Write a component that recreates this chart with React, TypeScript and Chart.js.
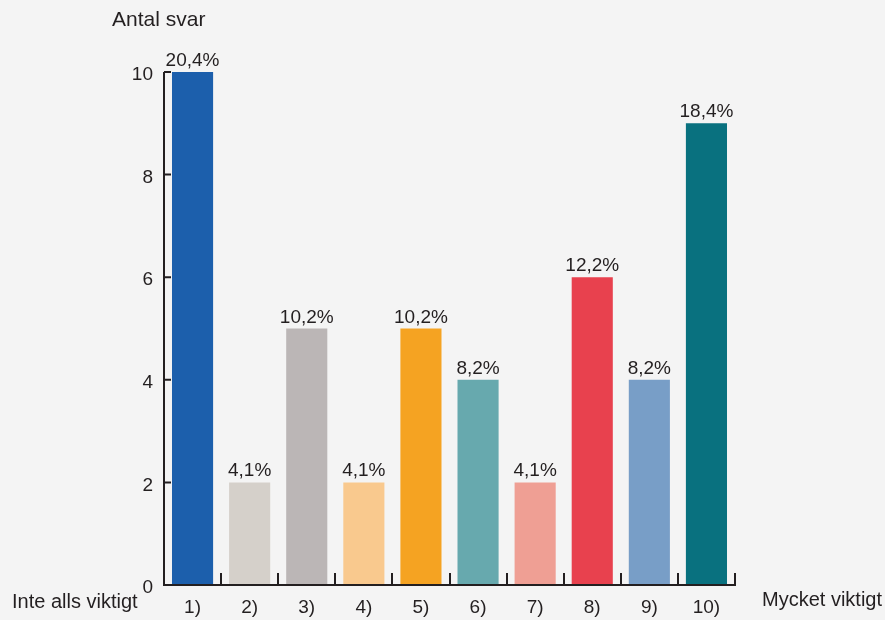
import React, { useEffect, useRef } from "react";
import { Chart, registerables } from "chart.js";

Chart.register(...registerables);

const categories = ["1)", "2)", "3)", "4)", "5)", "6)", "7)", "8)", "9)", "10)"];
const counts = [10, 2, 5, 2, 5, 4, 2, 6, 4, 9];
const percentLabels = ["20,4%", "4,1%", "10,2%", "4,1%", "10,2%", "8,2%", "4,1%", "12,2%", "8,2%", "18,4%"];
const barColors = ["#1c5fac", "#d5d0ca", "#bbb6b6", "#f9c98e", "#f5a322", "#67a9ae", "#ef9f94", "#e8414e", "#789ec7", "#09717f"];
const yTicks = [0, 2, 4, 6, 8, 10];
const yAxisTitle = "Antal svar";
const leftEndLabel = "Inte alls viktigt";
const rightEndLabel = "Mycket viktigt";

const FONT = "'Liberation Sans', Arial, sans-serif";
const INK = "#231f20";

const overlayPlugin = {
  id: "overlay",
  afterDraw(chart: any) {
    const { ctx, chartArea, scales } = chart;
    const x = scales.x;
    const y = scales.y;
    ctx.save();
    // axes
    ctx.strokeStyle = INK;
    ctx.lineWidth = 2;
    ctx.beginPath();
    ctx.moveTo(chartArea.left, y.getPixelForValue(10));
    ctx.lineTo(chartArea.left, chartArea.bottom);
    ctx.lineTo(chartArea.right + 1, chartArea.bottom);
    ctx.stroke();
    // y ticks (inward)
    ctx.beginPath();
    yTicks.forEach((v) => {
      if (v === 0) return;
      const py = y.getPixelForValue(v);
      ctx.moveTo(chartArea.left, py);
      ctx.lineTo(chartArea.left + 7, py);
    });
    ctx.stroke();
    // x ticks between categories (inward)
    ctx.beginPath();
    for (let i = 1; i <= categories.length; i++) {
      const p0 = x.getPixelForValue(i - 1);
      const p1 = i < categories.length ? x.getPixelForValue(i) : p0 + (p0 - x.getPixelForValue(i - 2));
      const px = Math.round((p0 + p1) / 2);
      ctx.moveTo(px, chartArea.bottom);
      ctx.lineTo(px, chartArea.bottom - 12);
    }
    ctx.stroke();
    // data labels
    ctx.fillStyle = INK;
    ctx.font = `19px ${FONT}`;
    ctx.textAlign = "center";
    ctx.textBaseline = "alphabetic";
    const meta = chart.getDatasetMeta(0);
    meta.data.forEach((bar: any, i: number) => {
      ctx.fillText(percentLabels[i], bar.x, bar.y - 6);
    });
    // titles
    ctx.textAlign = "left";
    ctx.font = `21px ${FONT}`;
    ctx.fillText(yAxisTitle, 112, 26);
    ctx.font = `20px ${FONT}`;
    ctx.fillText(leftEndLabel, 12, 608);
    ctx.fillText(rightEndLabel, 762, 606);
    ctx.restore();
  },
};

export default function App() {
  const canvasRef = useRef<HTMLCanvasElement | null>(null);

  useEffect(() => {
    const canvas = canvasRef.current;
    if (!canvas) return;
    const chart = new Chart(canvas, {
      type: "bar",
      data: {
        labels: categories,
        datasets: [
          {
            data: counts,
            backgroundColor: barColors,
            borderWidth: 0,
            categoryPercentage: 0.72,
            barPercentage: 1,
          },
        ],
      },
      options: {
        animation: false,
        responsive: false,
        maintainAspectRatio: false,
        layout: { padding: { left: 0, right: 150, top: 72, bottom: 0 } },
        plugins: {
          legend: { display: false },
          tooltip: { enabled: false },
          title: { display: false },
        },
        scales: {
          x: {
            grid: { display: false, drawTicks: false },
            border: { display: false },
            ticks: {
              color: INK,
              font: { family: FONT, size: 19 },
              padding: 11,
              maxRotation: 0,
              autoSkip: false,
            },
            afterFit: (scale: any) => {
              scale.height = 35;
            },
          },
          y: {
            min: 0,
            max: 10,
            grid: { display: false, drawTicks: false },
            border: { display: false },
            ticks: {
              stepSize: 2,
              color: INK,
              font: { family: FONT, size: 19 },
              padding: 11,
              labelOffset: 3,
            },
            afterFit: (scale: any) => {
              scale.width = 164;
            },
          },
        },
      },
      plugins: [overlayPlugin],
    });
    return () => chart.destroy();
  }, []);

  return (
    <div style={{ position: "fixed", left: 0, top: 0, width: 885, height: 620, background: "#f4f4f4" }}>
      <canvas ref={canvasRef} width={885} height={620} style={{ display: "block", width: 885, height: 620 }} />
    </div>
  );
}
